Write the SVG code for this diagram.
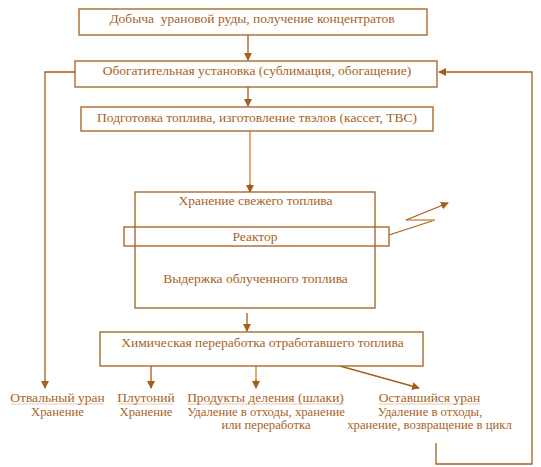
<svg xmlns="http://www.w3.org/2000/svg" width="541" height="467" viewBox="0 0 541 467">
<defs>
<marker id="ah" markerWidth="8" markerHeight="8" refX="7" refY="4" orient="auto" markerUnits="userSpaceOnUse">
<path d="M0,0 L8,4 L0,8 Z" fill="#a35f1c"/>
</marker>
<style>
.box{fill:#fff;stroke:#a35f1c;stroke-width:1.3}
.ln{fill:none;stroke:#a35f1c;stroke-width:1.3}
.lt{fill:none;stroke:#d9a26a;stroke-width:1.8}
.ul{stroke:#ecdccb;stroke-width:1.5}
text{font-family:'Liberation Serif','DejaVu Serif',serif;font-size:13.5px;fill:#a8621e;text-anchor:middle}
.sm{font-size:12.7px}
</style>
</defs>
<rect width="541" height="467" fill="#fff"/>
<g id="connectors">
<line class="ln" x1="248" y1="35" x2="248" y2="60" marker-end="url(#ah)"/>
<line class="ln" x1="248" y1="87" x2="248" y2="106" marker-end="url(#ah)"/>
<line class="lt" x1="250" y1="131" x2="250" y2="186"/>
<line class="ln" x1="250" y1="184" x2="250" y2="192" marker-end="url(#ah)"/>
<polyline class="ln" points="75,72 45,72 45,388" marker-end="url(#ah)"/>
<polyline class="ln" points="436,443 436,464 532,464 532,72 439,72" marker-end="url(#ah)"/>
<line class="ln" x1="247" y1="313" x2="247" y2="331" marker-end="url(#ah)"/>
<line class="ln" x1="151" y1="366" x2="151" y2="388" marker-end="url(#ah)"/>
<line class="lt" x1="256" y1="366" x2="256" y2="382"/>
<line class="ln" x1="256" y1="380" x2="256" y2="388" marker-end="url(#ah)"/>
<line class="ln" x1="340" y1="366" x2="419" y2="388" marker-end="url(#ah)"/>
<line class="ln" x1="389" y1="235" x2="435" y2="220"/>
<line class="lt" x1="435" y1="220" x2="406" y2="220"/>
<line class="ln" x1="406" y1="220" x2="448" y2="203" marker-end="url(#ah)"/>
</g>
<g id="n1"><rect class="box" x="79" y="9" width="348" height="26"/><text x="252" y="23" xml:space="preserve">Добыча  урановой руды, получение концентратов</text></g>
<g id="n2"><rect class="box" x="75" y="61" width="362" height="26"/><text x="257" y="75">Обогатительная установка (сублимация, обогащение)</text></g>
<g id="n3"><rect class="box" x="81" y="107" width="352" height="24"/><text x="257" y="121.5">Подготовка топлива, изготовление твэлов (кассет, ТВС)</text></g>
<g id="n4"><rect class="box" x="135" y="192" width="240" height="116"/>
<text x="255.5" y="204.5">Хранение свежего топлива</text>
<text x="255.5" y="283">Выдержка облученного топлива</text></g>
<g id="n5"><rect x="124" y="227" width="265" height="19" fill="none" stroke="#a35f1c" stroke-width="1.3"/><text x="255" y="241">Реактор</text></g>
<g id="n6"><rect class="box" x="100" y="332" width="323" height="34"/><text x="262.5" y="347">Химическая переработка отработавшего топлива</text></g>
<g id="n7"><line class="ul" x1="11" y1="404" x2="104" y2="404"/><text x="57.5" y="401.5">Отвальный уран</text><text class="sm" x="57.5" y="415.5">Хранение</text></g>
<g id="n8"><line class="ul" x1="118" y1="404" x2="174" y2="404"/><text x="146" y="401.5">Плутоний</text><text class="sm" x="146" y="415.5">Хранение</text></g>
<g id="n9"><line class="ul" x1="187" y1="404" x2="344" y2="404"/><text x="265.5" y="401.5">Продукты деления (шлаки)</text><text class="sm" x="266" y="415.5">Удаление в отходы, хранение</text><text class="sm" x="266" y="429">или переработка</text></g>
<g id="n10"><line class="ul" x1="379" y1="404" x2="480" y2="404"/><text x="429.5" y="401.5">Оставшийся уран</text><text class="sm" x="430" y="415.5">Удаление в отходы,</text><text class="sm" x="429.5" y="429">хранение, возвращение в цикл</text></g>
</svg>
